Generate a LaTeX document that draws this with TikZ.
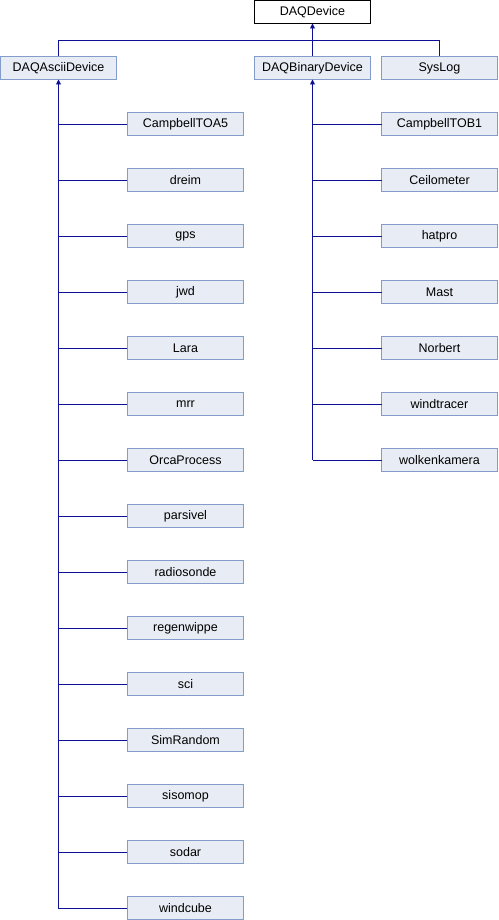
\documentclass[tikz,border=0pt]{standalone}
\usepackage{fontspec}
\setmainfont{Liberation Sans}
\usetikzlibrary{positioning,calc,arrows.meta}

\definecolor{boxfill}{RGB}{232,236,244}
\definecolor{boxline}{RGB}{132,156,204}
\definecolor{edgeblue}{RGB}{16,16,150}

\begin{document}
\begin{tikzpicture}[
    node distance=33pt and 11pt,
    cls/.style={rectangle, draw=boxline, fill=boxfill, line width=0.9pt, minimum width=116pt, minimum height=23pt, inner sep=0pt, outer sep=0pt, font=\fontsize{12.5}{14}\selectfont},
    root/.style={cls, draw=black, fill=white},
    edge/.style={draw=edgeblue, line width=0.9pt},
    inherit/.style={edge, -{Triangle[length=5pt,width=5pt]}}
    ]

    % Top level
    \node[root] (daq) {DAQDevice};
    \node[cls, below=of daq] (binary) {DAQBinaryDevice};
    \node[cls, right=of binary] (syslog) {SysLog};
    \node[cls, left=138pt of binary] (ascii) {DAQAsciiDevice};
    \coordinate[below=17pt of daq] (bar);

    % Ascii devices
    \node[cls, below right=33pt and 11pt of ascii] (toa5) {CampbellTOA5};
    \node[cls, below=of toa5] (dreim) {dreim};
    \node[cls, below=of dreim] (gps) {gps};
    \node[cls, below=of gps] (jwd) {jwd};
    \node[cls, below=of jwd] (lara) {Lara};
    \node[cls, below=of lara] (mrr) {mrr};
    \node[cls, below=of mrr] (orca) {OrcaProcess};
    \node[cls, below=of orca] (parsivel) {parsivel};
    \node[cls, below=of parsivel] (sonde) {radiosonde};
    \node[cls, below=of sonde] (wippe) {regenwippe};
    \node[cls, below=of wippe] (sci) {sci};
    \node[cls, below=of sci] (simrandom) {SimRandom};
    \node[cls, below=of simrandom] (sisomop) {sisomop};
    \node[cls, below=of sisomop] (sodar) {sodar};
    \node[cls, below=of sodar] (windcube) {windcube};

    % Binary devices
    \node[cls, below=of syslog] (tob1) {CampbellTOB1};
    \node[cls, below=of tob1] (ceilo) {Ceilometer};
    \node[cls, below=of ceilo] (hatpro) {hatpro};
    \node[cls, below=of hatpro] (mast) {Mast};
    \node[cls, below=of mast] (norbert) {Norbert};
    \node[cls, below=of norbert] (tracer) {windtracer};
    \node[cls, below=of tracer] (kamera) {wolkenkamera};

    % Inheritance from DAQDevice
    \draw[edge] (ascii.north) |- (bar) -| (syslog.north);
    \draw[inherit] (binary.north) -- (daq.south);

    % Inheritance from DAQAsciiDevice
    \draw[inherit] (ascii.south |- windcube.west) -- (ascii.south);
    \draw[edge] (toa5.west) -- (toa5.west -| ascii.south);
    \draw[edge] (dreim.west) -- (dreim.west -| ascii.south);
    \draw[edge] (gps.west) -- (gps.west -| ascii.south);
    \draw[edge] (jwd.west) -- (jwd.west -| ascii.south);
    \draw[edge] (lara.west) -- (lara.west -| ascii.south);
    \draw[edge] (mrr.west) -- (mrr.west -| ascii.south);
    \draw[edge] (orca.west) -- (orca.west -| ascii.south);
    \draw[edge] (parsivel.west) -- (parsivel.west -| ascii.south);
    \draw[edge] (sonde.west) -- (sonde.west -| ascii.south);
    \draw[edge] (wippe.west) -- (wippe.west -| ascii.south);
    \draw[edge] (sci.west) -- (sci.west -| ascii.south);
    \draw[edge] (simrandom.west) -- (simrandom.west -| ascii.south);
    \draw[edge] (sisomop.west) -- (sisomop.west -| ascii.south);
    \draw[edge] (sodar.west) -- (sodar.west -| ascii.south);
    \draw[edge] (windcube.west) -- (windcube.west -| ascii.south);

    % Inheritance from DAQBinaryDevice
    \draw[inherit] (binary.south |- kamera.west) -- (binary.south);
    \draw[edge] (tob1.west) -- (tob1.west -| binary.south);
    \draw[edge] (ceilo.west) -- (ceilo.west -| binary.south);
    \draw[edge] (hatpro.west) -- (hatpro.west -| binary.south);
    \draw[edge] (mast.west) -- (mast.west -| binary.south);
    \draw[edge] (norbert.west) -- (norbert.west -| binary.south);
    \draw[edge] (tracer.west) -- (tracer.west -| binary.south);
    \draw[edge] (kamera.west) -- (kamera.west -| binary.south);

    \useasboundingbox ($(daq.north -| ascii.west)+(-0.5pt,0.5pt)$) rectangle ($(windcube.south -| syslog.east)+(0.5pt,-0.5pt)$);

\end{tikzpicture}
\end{document}
